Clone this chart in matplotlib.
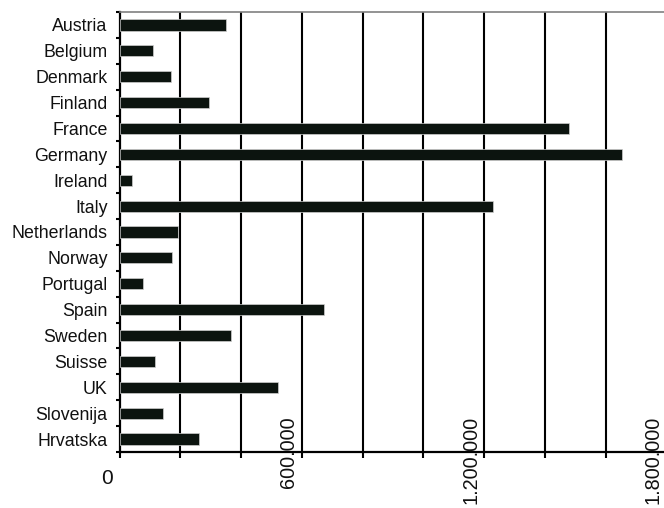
import matplotlib
matplotlib.use("Agg")
import matplotlib.pyplot as plt
import matplotlib.transforms as mtransforms
import numpy as np

countries = ["Austria", "Belgium", "Denmark", "Finland", "France", "Germany",
             "Ireland", "Italy", "Netherlands", "Norway", "Portugal", "Spain",
             "Sweden", "Suisse", "UK", "Slovenija", "Hrvatska"]
values = [352000, 111000, 170000, 293000, 1478000, 1654000, 40000, 1229000,
          193000, 172000, 78000, 674000, 368000, 116000, 523000, 143000, 263000]
tick_values = [0, 600000, 1200000, 1800000]
tick_labels = ["0", "600.000", "1.200.000", "1.800.000"]
grid_values = [200000 * i for i in range(1, 10)]

plt.rcParams['font.family'] = ['Liberation Sans', 'DejaVu Sans']

W, H = 664, 508
fig = plt.figure(figsize=(W / 100, H / 100), dpi=100)
left, right, top, bottom = 119.5, 666.5, 12, 452
ax = fig.add_axes([left / W, 1 - bottom / H, (right - left) / W, (bottom - top) / H])

y = np.arange(len(countries))
ax.barh(y, values, height=0.43, color="#0c140f", edgecolor="#cfcfcf", linewidth=0.5, zorder=3)
ax.set_xlim(0, 1800000)
ax.set_ylim(len(countries) - 0.5, -0.5)

for g in grid_values:
    ax.axvline(g, color="black", linewidth=1.5, zorder=2)

ax.set_xticks(grid_values + [0])
ax.set_xticklabels([])
ax.tick_params(axis="x", direction="out", length=4, width=1.5, color="black")

ax.set_yticks(y)
ax.set_yticklabels(countries, fontsize=12.8, color="#111111")
ax.tick_params(axis="y", which="major", length=0, pad=8.5)
ax.set_yticks(np.arange(-0.5, len(countries), 1), minor=True)
ax.tick_params(axis="y", which="minor", direction="out", length=3, width=1.5, color="black")

ax.spines["left"].set_linewidth(1.6)
ax.spines["bottom"].set_linewidth(1.6)
ax.spines["top"].set_color("#808080")
ax.spines["top"].set_linewidth(1.2)
ax.spines["right"].set_visible(False)

base = mtransforms.blended_transform_factory(ax.transData, fig.transFigure)
for v, lab in zip(tick_values, tick_labels):
    if v == 0:
        tr = base + mtransforms.ScaledTranslation(-7 / 100, 0, fig.dpi_scale_trans)
        ax.text(v, 1 - 478 / H, lab, transform=tr, rotation=0, ha="right",
                va="center", fontsize=15, color="#111111", clip_on=False)
    else:
        tr = base + mtransforms.ScaledTranslation(-4 / 100, 0, fig.dpi_scale_trans)
        ax.text(v, 1 - 416 / H, lab, transform=tr, rotation=90, ha="right",
                va="top", fontsize=14.3, color="#111111", clip_on=False)

fig.savefig("out.png", dpi=100)
